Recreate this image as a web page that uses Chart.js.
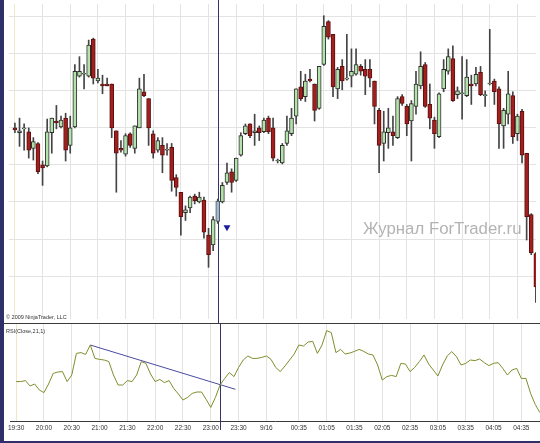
<!DOCTYPE html>
<html>
<head>
<meta charset="utf-8">
<script src="https://cdn.jsdelivr.net/npm/chart.js@4.4.1/dist/chart.umd.min.js"></script>
<style>
  html, body { margin:0; padding:0; background:#fff; }
  #wrap { position:relative; width:540px; height:443px; overflow:hidden; background:#fff;
          font-family:"Liberation Sans", Arial, sans-serif; }
  #mainBox { position:absolute; left:5px; top:0; width:535px; height:323px; }
  #rsiBox  { position:absolute; left:5px; top:324px; width:535px; height:117px; }
  .sep { position:absolute; left:0; width:540px; height:1px; background:#3a3a3a; }
  #leftbar { position:absolute; left:0; top:0; width:4px; height:443px; background:#2f2f6a; }
  #bottombar { position:absolute; left:0; top:441px; width:540px; height:2px; background:#2f2f6a; }
  .small { position:absolute; left:6px; font-size:5.5px; color:#333; white-space:nowrap; }
  #wm { position:absolute; left:363px; top:219px; font-size:16.8px; color:#b3b3b3; white-space:nowrap; }
</style>
</head>
<body>
<div id="wrap">
  <div id="mainBox"><canvas id="mainChart"></canvas></div>
  <div id="rsiBox"><canvas id="rsiChart"></canvas></div>
  <div class="sep" style="top:323px"></div>
  <div id="leftbar"></div>
  <div id="bottombar"></div>
  <div class="small" style="top:314px">© 2009 NinjaTrader, LLC</div>
  <div class="small" style="top:328px">RSI(Close,21,1)</div>
  <div id="wm">Журнал ForTrader.ru</div>
</div>
<script>
// 5-minute bars, index 0 = 19:30
const opens = [1043.25,1042,1043,1042.25,1038,1039.25,1033.75,1033.5,1042,1045,
  1043.5,1045.75,1038.75,1043.5,1056.5,1057,1056.5,1066,1055.25,1054.5,
  1054.5,1054.5,1042.5,1038,1036.5,1041.75,1038,1043.25,1052.5,1050.75,
  1041.75,1037.5,1038.75,1037.5,1038.25,1030.5,1026.75,1021.5,1022.75,1025.75,
  1024.25,1024.75,1015.75,1013.25,1019.25,1024.25,1029.25,1032,1029.75,1036.25,
  1041.75,1044.25,1042,1043.25,1042.25,1045.75,1043.25,1034.75,1034.25,1039.25,
  1041.75,1046.25,1053.75,1051.25,1055.75,1054.5,1048.25,1059.5,1070.5,1067.25,
  1053.25,1059,1055.75,1056.5,1057,1059,1058.25,1058.25,1055.25,1047.75,
  1039.25,1042,1042.25,1040.75,1051.25,1048.75,1045,1048.75,1054,1059.5,
  1049.25,1045.25,1041,1053.25,1057.75,1061,1051.75,1052,1051.5,1054.5,
  1054.5,1057.5,1051.5,1054.5,1055.25,1053.25,1043.75,1046.75,1051.5,1041.75,
  1047.5,1036.75,1021,1011];
const highs = [1044.5,1045.75,1044.25,1043.25,1040.75,1039.5,1034.75,1045.5,1045.75,1049,
  1046.25,1047,1046.25,1059.5,1061.5,1059.5,1065.75,1066.25,1058.25,1056.75,
  1056,1054.5,1042.5,1040,1041.75,1042,1043.75,1056,1057,1050.75,
  1042.5,1040.75,1040.75,1039.25,1039.25,1031.25,1026.75,1023.25,1025.75,1026.25,
  1026.75,1025.5,1017.5,1020.5,1025,1029.25,1034.25,1032.75,1035.5,1042,
  1044.25,1044.25,1046.75,1043.75,1045.75,1046.25,1045.75,1035.25,1039.25,1046.25,
  1048.25,1053.25,1057.75,1057,1058.25,1054.5,1059,1072,1070.75,1067.25,
  1058.75,1060.75,1067.25,1063.5,1063.5,1059.5,1060.75,1060.75,1055.25,1048.25,
  1047.5,1048.25,1046.25,1051.25,1051.75,1049.25,1050.25,1057.75,1062.75,1060,
  1054.5,1046,1052.25,1060.75,1063.5,1064.25,1053.75,1061.5,1060.75,1056.75,
  1058.75,1059,1052.75,1068.5,1055.75,1053.75,1048.25,1057.75,1052.5,1046.75,
  1048,1036.75,1021.25,1011.25];
const lows = [1042,1038.5,1037.5,1035.5,1035,1031.5,1028.5,1033.25,1036.75,1043,
  1043.25,1034.75,1036.75,1043.25,1056.25,1053.25,1056.25,1054.5,1054.75,1052,
  1054,1040.75,1026.75,1037,1036,1038.25,1036.75,1043.25,1051.25,1038.75,
  1035.5,1037,1031.75,1036.25,1027,1025.75,1015.75,1019.5,1021.5,1023.75,
  1024,1015,1007.5,1011.75,1018.75,1024,1028.75,1026.75,1029.5,1036,
  1041.5,1040.75,1038.75,1040,1042,1041.75,1034.75,1034.25,1034,1038.75,
  1041.25,1044.25,1050.25,1050,1055,1045,1048,1059.25,1066,1051.25,
  1050.75,1053,1055.5,1053.75,1056.75,1056.75,1051.75,1053.75,1044.25,1031.75,
  1034.75,1038,1038.75,1040.5,1049,1041.25,1034.75,1046.75,1053.25,1048.5,
  1043,1038,1040.75,1052.5,1057,1050,1050.75,1045.5,1051.25,1049.25,
  1054,1051.5,1048.75,1054.25,1049.25,1038,1038,1044.25,1039.25,1040,
  1034.25,1014.5,1010.75,998.5];
const closes = [1042.75,1042.5,1043.25,1037.5,1039.75,1032,1033,1042.25,1045.75,1044.5,
  1045.25,1037.5,1043.25,1057.75,1057.75,1057,1064.5,1056,1056,1054,
  1054,1043.25,1036.75,1037.5,1041.25,1038.75,1043.75,1053.25,1051.5,1043.25,
  1036.75,1040,1036.25,1037.5,1029.75,1028,1020.5,1022.25,1025.5,1024.5,
  1025.5,1016.5,1010.75,1019.75,1024.5,1028.5,1031.75,1029.25,1035.5,1041.25,
  1043.75,1041.25,1042.5,1042,1045.25,1042.25,1035.5,1034.75,1038.75,1042.5,
  1045.75,1053.25,1050.75,1055.25,1055.25,1047.75,1059,1069.25,1066.5,1053.75,
  1058.25,1055.25,1055.75,1057.75,1059.5,1057.75,1056.5,1056,1048.75,1038.75,
  1042.25,1043.25,1041.25,1050.75,1049.5,1044.25,1049.5,1054.5,1059,1048.75,
  1045.75,1041.75,1052,1058.25,1061.5,1050.25,1052.75,1052,1056.25,1054,
  1057,1051.75,1051.5,1054.5,1052.5,1044.25,1047.75,1052,1041,1046.25,
  1036.25,1020.5,1011.25,1002.5];
const rsi = [45.7,45.7,46.2,43.5,44.5,41.5,40.2,44.5,49.8,50.5,
  50.7,45.7,49.0,59.8,60.2,59.3,64.0,57.3,56.8,56.5,
  55.7,49.0,44.0,44.0,46.2,45.7,49.0,55.7,54.8,49.5,
  45.7,46.8,45.2,46.2,42.3,39.5,36.5,37.8,39.8,40.5,
  40.5,36.8,32.8,37.8,44.0,47.3,50.2,48.2,52.8,56.5,
  58.5,57.3,57.3,57.8,58.5,56.8,52.8,50.7,53.5,56.5,
  59.5,64.0,63.5,65.5,65.8,59.8,64.0,71.2,70.2,60.2,
  61.8,59.5,60.0,60.8,61.8,60.8,59.5,59.0,54.0,46.5,
  48.2,48.8,48.2,54.8,54.5,50.7,52.8,55.7,59.0,54.5,
  51.5,48.5,54.0,58.5,60.7,58.2,54.0,54.8,56.5,56.2,
  57.0,55.2,53.7,54.8,55.2,52.3,49.0,51.5,52.3,47.3,
  47.3,39.8,34.3,30.2];

const tickPos  = [0,6,12,18,24,30,36,42,48,54,61,67,73,79,85,91,97,103,109];
const tickText = ["19:30","20:00","20:30","21:00","21:30","22:00","22:30","23:00","23:30","9/16",
  "00:35","01:05","01:35","02:05","02:35","03:05","03:35","04:05","04:35"];
const priceGrid = [1005.25,1014.75,1024.25,1033.75,1043.25,1052.75,1062.25,1071.75];

const cursorIndex = 44;                 // selected bar / crosshair
const arrowPoint = { x: 46, y: 1017.75 };
const trendX = [16, 47.3];
const trendY = [64.0, 41.85];

const xMin = -1.282, xMax = 113.03;

const gridCol = ctx => ctx.index === 0 ? "#efe8c8" : "#e3e3e3";

function crosshair(bottom){
  return {
    id: "crosshair",
    beforeDatasetsDraw(chart){
      const c = chart.ctx;
      const x = Math.round(chart.scales.x.getPixelForValue(cursorIndex)) + 0.5;
      c.save();
      c.strokeStyle = "#34346a";
      c.lineWidth = 1;
      c.beginPath();
      c.moveTo(x, 0);
      c.lineTo(x, bottom == null ? chart.height : bottom);
      c.stroke();
      c.restore();
    }
  };
}

function bodyFill(i){
  if (i === cursorIndex) return "#a3b8cc";
  return closes[i] >= opens[i] ? "#b3e3ab" : "#a21f1e";
}
function bodyEdge(i){
  if (i === cursorIndex) return "#4d5866";
  return closes[i] >= opens[i] ? "#2e2e2e" : "#5c1010";
}

const setTicks = s => { s.ticks = tickPos.map(v => ({ value: v })); };

new Chart(document.getElementById("mainChart"), {
  type: "bar",
  data: {
    datasets: [
      {
        type: "scatter",
        data: [arrowPoint],
        pointStyle: "triangle",
        rotation: 180,
        radius: 4,
        backgroundColor: "#1c1c9c",
        borderWidth: 0
      },
      {
        data: opens.map((o, i) => ({ x: i, y: [o, closes[i]] })),
        backgroundColor: ctx => bodyFill(ctx.dataIndex),
        borderColor: ctx => bodyEdge(ctx.dataIndex),
        borderWidth: 1,
        borderSkipped: false,
        barThickness: 4,
        minBarLength: 1,
        grouped: false
      },
      {
        data: lows.map((l, i) => ({ x: i, y: [l, highs[i]] })),
        backgroundColor: "#444",
        borderWidth: 0,
        barThickness: 1,
        grouped: false
      }
    ]
  },
  options: {
    responsive: true,
    maintainAspectRatio: false,
    animation: false,
    events: [],
    layout: { padding: 0 },
    plugins: { legend: { display: false }, tooltip: { enabled: false } },
    scales: {
      x: {
        type: "linear", min: xMin, max: xMax, offset: false,
        afterBuildTicks: setTicks,
        afterFit: s => { s.height = 0; },
        ticks: { display: false },
        grid: { color: gridCol, drawTicks: false, offset: false },
        border: { display: false }
      },
      y: {
        min: 994.25, max: 1075,
        afterBuildTicks: s => { s.ticks = priceGrid.map(v => ({ value: v })); },
        afterFit: s => { s.width = 0; },
        ticks: { display: false },
        grid: { color: "#e3e3e3", drawTicks: false },
        border: { display: false }
      }
    }
  },
  plugins: [crosshair()]
});

new Chart(document.getElementById("rsiChart"), {
  type: "line",
  data: {
    datasets: [
      {
        data: rsi.map((v, i) => ({ x: i, y: v })),
        borderColor: "#808e2e",
        borderWidth: 1,
        pointRadius: 0,
        tension: 0
      },
      {
        data: trendX.map((x, i) => ({ x: x, y: trendY[i] })),
        borderColor: "#4a4aa0",
        borderWidth: 1,
        pointRadius: 0
      }
    ]
  },
  options: {
    responsive: true,
    maintainAspectRatio: false,
    animation: false,
    events: [],
    layout: { padding: 0 },
    plugins: { legend: { display: false }, tooltip: { enabled: false } },
    scales: {
      x: {
        type: "linear", min: xMin, max: xMax,
        afterBuildTicks: setTicks,
        afterFit: s => { s.height = 20; },
        ticks: {
          autoSkip: false, maxRotation: 0, padding: 3,
          color: "#333", font: { family: "Liberation Sans", size: 6.5 },
          callback: (v, i) => tickText[i]
        },
        grid: { color: gridCol, drawTicks: false },
        border: { display: true, color: "#3a3a3a" }
      },
      y: { display: false, min: 26, max: 74.5 }
    }
  },
  plugins: [crosshair(106)]
});
</script>
</body>
</html>
